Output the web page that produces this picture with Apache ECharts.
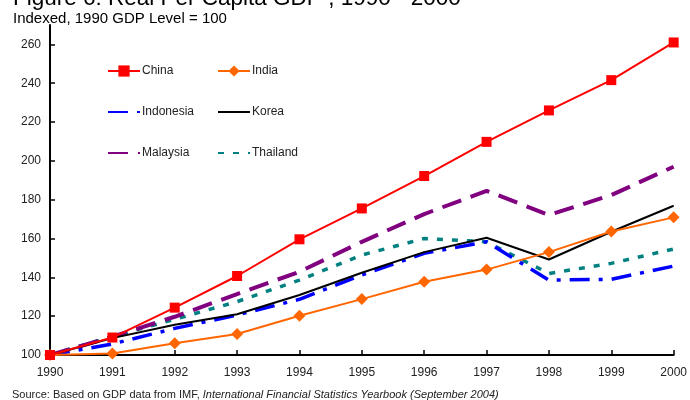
<!DOCTYPE html>
<html>
<head>
<meta charset="utf-8">
<script src="https://cdn.jsdelivr.net/npm/echarts@6/dist/echarts.min.js"></script>
<style>
html,body{margin:0;padding:0;background:#fff;}
#chart{width:690px;height:400px;}
</style>
</head>
<body>
<div id="chart"></div>
<script>
var years = ['1990','1991','1992','1993','1994','1995','1996','1997','1998','1999','2000'];
var china     = [100, 109, 124.4, 140.7, 159.6, 175.5, 192.2, 209.8, 226, 241.6, 261];
var india     = [100, 100.8, 106, 110.8, 120.2, 128.8, 137.7, 144, 153, 163.6, 170.9];
var indonesia = [100, 105.7, 113.7, 120.6, 128.7, 141.2, 152.4, 158.3, 138.6, 139, 145.8];
var korea     = [100, 108.7, 115.6, 121, 130.9, 142.4, 153, 160.4, 149.2, 163.5, 176.9];
var malaysia  = [100, 109.4, 119.7, 131.4, 142.9, 158.3, 172.6, 184.6, 172.1, 182.4, 197];
var thailand  = [100, 109.5, 118.4, 127.5, 138.6, 151.5, 160, 158.3, 142, 147.2, 154.6];
var yTicks = [100, 120, 140, 160, 180, 200, 220, 240, 260];

var FONT = '"Liberation Sans", Arial, sans-serif';
var chart = echarts.init(document.getElementById('chart'), null, {renderer: 'canvas'});

var hidden = {color: 'rgba(0,0,0,0)', borderWidth: 0, opacity: 0};
var legendCommon = {
  orient: 'vertical',
  top: 65,
  padding: 0,
  itemWidth: 32,
  itemHeight: 14,
  itemGap: 29,
  textStyle: {fontFamily: FONT, fontSize: 12, color: '#222', padding: [0, 0, 0, -3]}
};

var option = {
  animation: false,
  backgroundColor: '#fff',
  grid: {left: 50, right: 15, top: 25, bottom: 45, containLabel: false},
  legend: [
    Object.assign({left: 107, data: [
      {name: 'China'},
      {name: 'Indonesia', itemStyle: hidden},
      {name: 'Malaysia', itemStyle: hidden}
    ]}, legendCommon),
    Object.assign({left: 217, data: [
      {name: 'India'},
      {name: 'Korea', itemStyle: hidden},
      {name: 'Thailand', itemStyle: hidden}
    ]}, legendCommon)
  ],
  xAxis: {
    type: 'category',
    data: years,
    boundaryGap: false,
    axisLine: {lineStyle: {color: '#000', width: 2}},
    axisTick: {inside: true, length: 5, lineStyle: {color: '#000', width: 1.5}},
    axisLabel: {fontFamily: FONT, fontSize: 12, color: '#222', margin: 12},
    splitLine: {show: false}
  },
  yAxis: {
    type: 'value',
    min: 100,
    max: 270,
    interval: 20,
    axisLine: {show: true, lineStyle: {color: '#000', width: 2}},
    axisTick: {show: true, inside: true, length: 5, customValues: yTicks, lineStyle: {color: '#000', width: 1.5}},
    axisLabel: {fontFamily: FONT, fontSize: 12, color: '#222', margin: 9, customValues: yTicks},
    splitLine: {show: false}
  },
  graphic: [
    {type: 'text', left: 13, top: -13, style: {text: 'Figure 6: Real Per Capita GDP , 1990 - 2000', font: '22.5px ' + FONT, fill: '#000'}},
    {type: 'text', left: 13, top: 11, style: {text: 'Indexed, 1990 GDP Level = 100', font: '15px ' + FONT, fill: '#000'}},
    {type: 'text', left: 12, top: 389, style: {
      text: '{a|Source: Based on GDP data from IMF, }{b|International Financial Statistics Yearbook (September 2004)}',
      rich: {
        a: {fontFamily: FONT, fontSize: 11, fill: '#222'},
        b: {fontFamily: FONT, fontSize: 11, fontStyle: 'italic', fill: '#222'}
      }
    }}
  ],
  series: [
    {name: 'Thailand', type: 'line', data: thailand, symbol: 'none', z: 2,
      lineStyle: {color: '#008080', width: 3.5, type: [6, 9]}, itemStyle: {color: '#008080'}},
    {name: 'Indonesia', type: 'line', data: indonesia, symbol: 'none', z: 3,
      lineStyle: {color: '#0000FF', width: 3.5, type: [20, 9, 4, 9]}, itemStyle: {color: '#0000FF'}},
    {name: 'Malaysia', type: 'line', data: malaysia, symbol: 'none', z: 3,
      lineStyle: {color: '#800080', width: 4, type: [20, 10]}, itemStyle: {color: '#800080'}},
    {name: 'Korea', type: 'line', data: korea, symbol: 'none', z: 4,
      lineStyle: {color: '#000000', width: 2}, itemStyle: {color: '#000000'}},
    {name: 'India', type: 'line', data: india, symbol: 'diamond', symbolSize: 12, z: 5,
      lineStyle: {color: '#FF6600', width: 2}, itemStyle: {color: '#FF6600'}},
    {name: 'China', type: 'line', data: china, symbol: 'rect', symbolSize: 10, z: 6,
      lineStyle: {color: '#FF0000', width: 2}, itemStyle: {color: '#FF0000'}}
  ]
};
chart.setOption(option);
</script>
</body>
</html>
